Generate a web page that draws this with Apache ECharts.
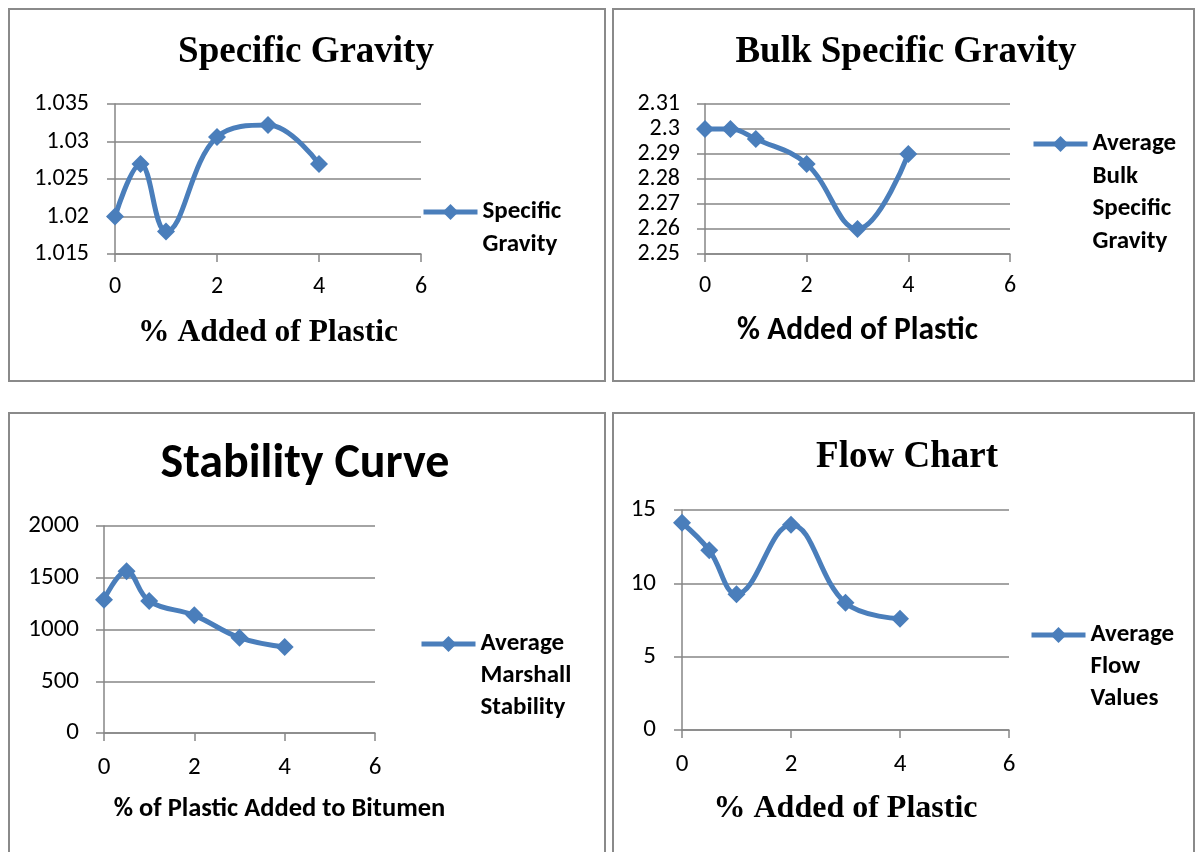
<!DOCTYPE html>
<html><head><meta charset="utf-8">
<script src="https://cdn.jsdelivr.net/npm/echarts@6/dist/echarts.min.js"></script>
<style>html,body{margin:0;padding:0;background:#fff}#c{width:1195px;height:852px}</style>
</head><body><div id="c"></div>
<script>
// ---- data ----
const plasticPct = [0, 0.5, 1, 2, 3, 4];
const specificGravity = [1.020, 1.027, 1.018, 1.0306, 1.0322, 1.027];
const bulkSpecificGravity = [2.300, 2.300, 2.296, 2.286, 2.260, 2.290];
const marshallStability = [1288, 1562, 1275, 1137, 921, 831];
const flowValues = [14.13, 12.25, 9.26, 14.0, 8.67, 7.58];
const xTicks = [0, 2, 4, 6];
const sgTicks = [1.015, 1.02, 1.025, 1.03, 1.035];
const bsgTicks = [2.25, 2.26, 2.27, 2.28, 2.29, 2.3, 2.31];
const stabilityTicks = [0, 500, 1000, 1500, 2000];
const flowTicks = [0, 5, 10, 15];
const titles = ['Specific Gravity', 'Bulk Specific Gravity', 'Stability Curve', 'Flow Chart'];
const seriesNames = ['Specific Gravity', 'Average Bulk Specific Gravity', 'Average Marshall Stability', 'Average Flow Values'];
const xNames = ['% Added of Plastic', '% Added of Plastic', '% of Plastic Added to Bitumen', '% Added of Plastic'];

// ---- styling / layout ----
const SANS = 'Carlito, Lato, sans-serif';
const SERIF = '"Liberation Serif", "Times New Roman", serif';
const GRAY = '#868686';
const BLUE = '#4A7EBB';

const panels = [
  {grid:{left:115, top:104, width:306, height:150}, yTicks:sgTicks, values:specificGravity, tick:24,
   title:{x:306, y:52, font:'bold 37px '+SERIF},
   xName:{font:SERIF, size:31.5, gap:63, pad:[0,0,0,0]}, xLabMargin:21, yLabMargin:26,
   legend:{left:421, iconY:212, lh:33}},
  {grid:{left:705, top:104, width:305, height:150}, yTicks:bsgTicks, values:bulkSpecificGravity, tick:24,
   title:{x:906, y:52, font:'bold 37px '+SERIF},
   xName:{font:SANS, size:31.5, gap:61, pad:[0,0,0,0]}, xLabMargin:20, yLabMargin:25,
   legend:{left:1031, iconY:144, lh:32.5}},
  {grid:{left:104, top:526, width:271, height:207}, yTicks:stabilityTicks, values:marshallStability, tick:25,
   title:{x:305, y:465, font:'bold 48px '+SANS},
   xName:{font:SANS, size:26.5, gap:63, pad:[0,0,0,80]}, xLabMargin:22, yLabMargin:25,
   legend:{left:419, iconY:644, lh:32}},
  {grid:{left:682, top:510, width:327, height:220}, yTicks:flowTicks, values:flowValues, tick:25,
   title:{x:907, y:457, font:'bold 37px '+SERIF},
   xName:{font:SERIF, size:32, gap:63, pad:[0,0,0,0]}, xLabMargin:22, yLabMargin:26,
   legend:{left:1029, iconY:635, lh:32}}
];

const grids = [], xAxes = [], yAxes = [], series = [], legends = [], graphics = [];

// panel borders
[[9,9,596,372],[613,9,581,372],[9,413,596,452],[613,413,581,452]].forEach(r => {
  graphics.push({type:'rect', shape:{x:r[0], y:r[1], width:r[2], height:r[3]},
    style:{fill:'none', stroke:'#8a8a8a', lineWidth:2}, z:-1});
});

panels.forEach((p, i) => {
  grids.push(Object.assign({containLabel:false}, p.grid));
  const axisLineStyle = {color:GRAY, width:1.5};
  xAxes.push({
    type:'value', gridIndex:i, min:xTicks[0], max:xTicks[xTicks.length-1], interval:xTicks[1]-xTicks[0],
    axisLine:{show:true, onZero:false, lineStyle:axisLineStyle},
    axisTick:{show:true, inside:false, length:8, lineStyle:axisLineStyle},
    splitLine:{show:false},
    axisLabel:{fontFamily:SANS, fontSize:p.tick, color:'#000', margin:p.xLabMargin},
    name:xNames[i], nameLocation:'middle', nameGap:p.xName.gap,
    nameTextStyle:{fontFamily:p.xName.font, fontSize:p.xName.size, fontWeight:'bold', color:'#000', padding:p.xName.pad}
  });
  const t = p.yTicks;
  yAxes.push({
    type:'value', gridIndex:i, min:t[0], max:t[t.length-1], interval:+(t[1]-t[0]).toFixed(6),
    axisLine:{show:true, lineStyle:axisLineStyle},
    axisTick:{show:true, inside:false, length:8, lineStyle:axisLineStyle},
    splitLine:{show:true, lineStyle:{color:GRAY, width:1.5}},
    axisLabel:{fontFamily:SANS, fontSize:p.tick, color:'#000', margin:p.yLabMargin,
      formatter: v => String(+v.toFixed(4))}
  });
  series.push({
    type:'line', name:seriesNames[i], xAxisIndex:i, yAxisIndex:i,
    data: plasticPct.map((x, k) => [x, p.values[k]]),
    smooth:0.4, symbol:'diamond', symbolSize:18, showSymbol:true,
    lineStyle:{color:BLUE, width:5}, itemStyle:{color:BLUE},
    animation:false
  });
  const n = seriesNames[i].split(' ').length;
  const L = p.legend.lh;
  legends.push({
    data:[seriesNames[i]], orient:'vertical', left:p.legend.left,
    top: p.legend.iconY - (2*n-1)*L/2,
    padding:0, itemWidth:54, itemHeight:20, selectedMode:false,
    lineStyle:{width:5, color:BLUE}, itemStyle:{color:BLUE},
    // leading blank lines keep the first word level with the marker
    formatter: nm => '\n'.repeat(n-1) + nm.split(' ').join('\n'),
    textStyle:{fontFamily:SANS, fontWeight:'bold', fontSize:25, lineHeight:L, color:'#000'}
  });
  graphics.push({type:'text', x:p.title.x, y:p.title.y,
    style:{text:titles[i], font:p.title.font, fill:'#000', textAlign:'center', textVerticalAlign:'middle'}});
});

const chart = echarts.init(document.getElementById('c'), null, {renderer:'canvas'});
chart.setOption({
  animation:false,
  backgroundColor:'#fff',
  grid:grids, xAxis:xAxes, yAxis:yAxes, series:series, legend:legends, graphic:graphics
});
</script></body></html>
